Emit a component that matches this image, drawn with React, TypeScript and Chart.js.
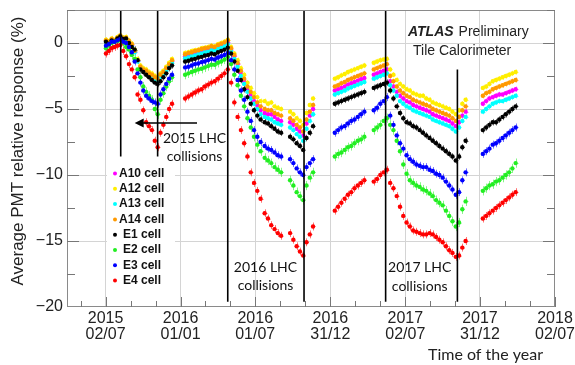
import React, { useEffect, useRef } from 'react';
import { Chart, registerables } from 'chart.js';
Chart.register(...registerables);

// Days counted from 2015-01-01
const days = [
  183, 190, 197, 204, 211, 218, 225, 232, 239, 246, 253, 260, 267, 274, 281, 288, 295, 302, 309, 316, 323, 330, 337, 344,
  376, 384, 392, 400, 408, 416, 424, 432, 440, 448, 456, 464, 472, 480,
  488, 496, 504, 512, 520, 528, 536, 544, 552, 560,
  570, 578, 586, 594, 602, 610,
  632, 640, 648, 656, 664, 672, 680, 688,
  741, 749, 757, 765, 773, 781, 789, 797, 805, 813,
  836, 844, 852, 860, 868,
  876, 884, 892, 900, 908, 916, 924, 932, 940, 948, 956, 964, 972, 980, 988, 996, 1004, 1012, 1020, 1028, 1036, 1044, 1052, 1060,
  1102, 1110, 1118, 1126, 1134, 1142, 1150, 1158, 1166, 1174, 1182,
];

const a10 = [
  0.15, 0.05, 0.25, 0.15, 0.35, 0.5, 0.3, 0.35, 0.1, -0.15, -0.65, -1.35, -1.85, -2.05, -2.15, -2.35, -2.5, -2.7, -2.8, -2.5, -2.3, -2.0, -1.7, -1.4,
  -1.0, -0.95, -0.85, -0.8, -0.7, -0.65, -0.55, -0.5, -0.4, -0.45, -0.3, -0.2, -0.1, 0.05,
  -0.5, -1.0, -1.6, -2.3, -2.9, -3.5, -3.9, -4.4, -4.7, -5.1,
  -5.3, -5.4, -5.4, -5.6, -5.8, -5.9,
  -6.0, -6.2, -6.5, -6.7, -7.0, -6.1, -5.5, -5.0,
  -3.6, -3.5, -3.4, -3.3, -3.15, -3.05, -2.95, -2.85, -2.75, -2.65,
  -2.4, -2.3, -2.2, -2.1, -2.0,
  -2.9, -3.3, -3.7, -4.0, -4.2, -4.4, -4.5, -4.7, -4.8, -4.9, -5.0, -5.1, -5.2, -5.4, -5.5, -5.6, -5.7, -5.8, -5.9, -6.1, -6.3, -6.0, -5.5, -5.2,
  -4.6, -4.4, -4.2, -4.1, -4.0, -3.9, -3.9, -3.8, -3.7, -3.6, -3.5,
];

const a12 = [
  0.25, 0.15, 0.35, 0.25, 0.45, 0.6, 0.4, 0.45, 0.2, -0.05, -0.5, -1.2, -1.7, -1.9, -2.0, -2.2, -2.3, -2.5, -2.6, -2.3, -2.1, -1.8, -1.5, -1.2,
  -0.75, -0.7, -0.6, -0.55, -0.5, -0.4, -0.35, -0.3, -0.2, -0.25, -0.1, 0.0, 0.1, 0.25,
  -0.3, -0.8, -1.3, -1.9, -2.4, -3.0, -3.4, -3.8, -4.1, -4.4,
  -4.4, -4.6, -4.5, -4.8, -4.9, -5.0,
  -5.2, -5.4, -5.7, -5.9, -6.2, -5.3, -4.7, -4.2,
  -2.7, -2.6, -2.45, -2.35, -2.2, -2.1, -2.0, -1.9, -1.8, -1.7,
  -1.5, -1.4, -1.3, -1.25, -1.2,
  -2.0, -2.4, -2.8, -3.1, -3.3, -3.5, -3.6, -3.8, -3.9, -4.0, -4.0, -4.2, -4.3, -4.5, -4.6, -4.7, -4.8, -4.9, -5.0, -5.2, -5.4, -5.1, -4.6, -4.3,
  -3.4, -3.3, -3.1, -2.9, -2.8, -2.7, -2.6, -2.5, -2.4, -2.3, -2.2,
];

const a13 = [
  0.1, 0.0, 0.2, 0.1, 0.3, 0.45, 0.25, 0.3, 0.05, -0.2, -0.7, -1.4, -1.9, -2.1, -2.2, -2.4, -2.6, -2.8, -2.9, -2.6, -2.4, -2.1, -1.8, -1.5,
  -1.15, -1.1, -1.0, -0.95, -0.85, -0.8, -0.7, -0.65, -0.55, -0.6, -0.45, -0.35, -0.25, -0.1,
  -0.6, -1.2, -1.8, -2.5, -3.1, -3.7, -4.2, -4.6, -5.0, -5.4,
  -5.6, -5.7, -5.8, -6.0, -6.1, -6.2,
  -6.4, -6.6, -6.9, -7.1, -7.4, -6.5, -5.9, -5.4,
  -3.9, -3.8, -3.7, -3.6, -3.45, -3.35, -3.25, -3.15, -3.05, -2.95,
  -2.7, -2.6, -2.5, -2.4, -2.3,
  -3.2, -3.6, -4.0, -4.4, -4.6, -4.8, -4.9, -5.1, -5.2, -5.3, -5.4, -5.5, -5.6, -5.8, -5.9, -6.0, -6.1, -6.2, -6.3, -6.5, -6.7, -6.4, -5.9, -5.6,
  -5.2, -5.0, -4.8, -4.6, -4.5, -4.4, -4.4, -4.3, -4.2, -4.1, -4.0,
];

const a14 = [
  0.2, 0.1, 0.3, 0.2, 0.4, 0.55, 0.35, 0.4, 0.15, -0.1, -0.6, -1.3, -1.8, -2.0, -2.1, -2.3, -2.4, -2.6, -2.7, -2.4, -2.2, -1.9, -1.6, -1.3,
  -0.85, -0.75, -0.7, -0.6, -0.55, -0.45, -0.4, -0.35, -0.25, -0.3, -0.15, -0.05, 0.05, 0.2,
  -0.4, -0.9, -1.5, -2.1, -2.7, -3.3, -3.7, -4.1, -4.5, -4.8,
  -5.0, -5.1, -5.1, -5.3, -5.4, -5.5,
  -5.7, -5.9, -6.2, -6.4, -6.7, -5.8, -5.2, -4.7,
  -3.3, -3.2, -3.05, -2.95, -2.8, -2.7, -2.6, -2.5, -2.4, -2.3,
  -2.0, -1.9, -1.8, -1.7, -1.6,
  -2.5, -2.9, -3.3, -3.6, -3.8, -4.0, -4.1, -4.3, -4.4, -4.5, -4.6, -4.7, -4.8, -5.0, -5.1, -5.2, -5.3, -5.4, -5.5, -5.7, -5.9, -5.6, -5.1, -4.8,
  -4.0, -3.8, -3.7, -3.5, -3.4, -3.3, -3.2, -3.1, -3.0, -2.9, -2.8,
];

const e1 = [
  0.1, -0.05, 0.2, 0.1, 0.35, 0.5, 0.3, 0.35, 0.0, -0.3, -0.5, -1.3, -2.0, -2.2, -2.4, -2.6, -2.8, -3.0, -3.1, -2.9, -2.6, -2.3, -1.9, -1.7,
  -1.4, -1.35, -1.25, -1.2, -1.1, -1.05, -0.95, -0.9, -0.8, -0.85, -0.7, -0.6, -0.5, -0.35,
  -0.8, -1.4, -2.1, -2.8, -3.5, -4.1, -4.6, -5.1, -5.5, -5.8,
  -6.0, -6.1, -6.3, -6.5, -6.7, -6.8,
  -7.1, -7.3, -7.6, -7.8, -8.1, -7.2, -6.8, -6.3,
  -4.6, -4.5, -4.4, -4.3, -4.2, -4.1, -4.0, -3.9, -3.8, -3.7,
  -3.4, -3.3, -3.2, -3.1, -3.0,
  -3.6, -4.2, -4.8, -5.3, -5.7, -6.0, -6.1, -6.3, -6.4, -6.6, -6.8, -7.0, -7.2, -7.4, -7.6, -7.8, -8.0, -8.2, -8.4, -8.6, -8.9, -8.6, -7.9, -7.4,
  -6.6, -6.4, -6.2, -6.0, -6.0, -5.8, -5.6, -5.4, -5.2, -5.0, -4.8,
];

const e2 = [
  -0.4, -0.2, 0.0, 0.1, 0.15, 0.2, 0.0, -0.3, -0.5, -0.9, -1.2, -2.0, -2.6, -3.3, -3.7, -4.0, -4.3, -5.0, -5.4, -4.3, -3.8, -3.3, -2.9, -2.6,
  -2.4, -2.3, -2.2, -2.1, -2.0, -1.95, -1.85, -1.75, -1.65, -1.65, -1.5, -1.4, -1.25, -1.05,
  -1.6, -2.4, -3.2, -4.0, -4.8, -5.7, -6.4, -7.1, -7.7, -8.2,
  -8.7, -8.9, -9.1, -9.4, -9.6, -9.8,
  -10.4, -10.8, -11.3, -11.6, -11.9, -10.8, -10.2, -9.8,
  -8.6, -8.4, -8.3, -8.1, -7.9, -7.8, -7.6, -7.4, -7.3, -7.1,
  -6.6, -6.4, -6.2, -5.9, -5.7,
  -6.2, -6.6, -7.4, -8.2, -9.2, -9.9, -10.4, -10.6, -10.8, -10.9, -11.1, -11.2, -11.4, -11.6, -11.9, -12.1, -12.3, -12.7, -13.1, -13.5, -13.9, -13.6, -12.6, -12.0,
  -11.2, -11.0, -10.8, -10.7, -10.5, -10.4, -10.2, -10.0, -9.8, -9.5, -9.1,
];

const e3 = [
  -0.2, -0.1, 0.1, 0.1, 0.2, 0.3, 0.1, 0.0, -0.3, -0.7, -1.4, -2.3, -3.0, -3.6, -4.0, -4.2, -4.4, -4.5, -4.6, -3.9, -3.5, -3.1, -2.7, -2.4,
  -1.85, -1.8, -1.7, -1.6, -1.55, -1.45, -1.4, -1.3, -1.2, -1.25, -1.1, -1.0, -0.9, -0.75,
  -1.3, -2.0, -2.8, -3.6, -4.3, -5.2, -5.9, -6.6, -7.1, -7.5,
  -7.8, -8.0, -8.1, -8.3, -8.5, -8.6,
  -8.8, -9.1, -9.5, -9.8, -10.0, -9.4, -9.1, -8.8,
  -6.8, -6.6, -6.4, -6.3, -6.1, -5.9, -5.8, -5.6, -5.4, -5.2,
  -5.1, -4.9, -4.6, -4.4, -4.1,
  -5.5, -6.2, -7.0, -7.6, -8.0, -8.5, -8.8, -9.0, -9.2, -9.3, -9.4, -9.4, -9.6, -9.7, -9.9, -10.0, -10.2, -10.5, -10.8, -11.1, -11.5, -11.3, -10.4, -9.8,
  -8.4, -8.2, -8.0, -7.7, -7.6, -7.4, -7.2, -7.0, -6.8, -6.6, -6.4,
];

const e4 = [
  -0.8, -0.6, -0.4, -0.3, -0.2, -0.15, -0.6, -1.0, -1.6, -2.0, -2.6, -3.9, -4.3, -5.1, -6.0, -6.3, -6.6, -7.4, -7.9, -6.8, -6.2, -5.6, -5.0, -4.6,
  -4.2, -4.05, -3.9, -3.75, -3.6, -3.5, -3.3, -3.15, -3.0, -2.9, -2.7, -2.5, -2.3, -2.0,
  -3.0, -4.5, -5.6, -6.6, -7.6, -8.6, -9.8, -10.6, -11.2, -11.8,
  -12.9, -13.3, -13.8, -14.1, -14.4, -14.6,
  -14.4, -14.9, -15.4, -15.8, -16.1, -15.1, -14.5, -13.9,
  -12.7, -12.4, -12.1, -11.8, -11.5, -11.3, -11.0, -10.8, -10.6, -10.4,
  -10.5, -10.3, -10.0, -9.8, -9.6,
  -10.6, -11.0, -11.6, -12.4, -13.1, -13.6, -13.9, -14.2, -14.3, -14.4, -14.5, -14.5, -14.4, -14.5, -14.7, -14.9, -15.1, -15.4, -15.7, -15.9, -16.2, -16.1, -15.5, -15.0,
  -13.3, -13.1, -12.9, -12.7, -12.5, -12.3, -12.1, -11.9, -11.7, -11.5, -11.3,
];

const seriesNames = ['A10 cell', 'A12 cell', 'A13 cell', 'A14 cell', 'E1 cell', 'E2 cell', 'E3 cell', 'E4 cell'];
const seriesValues = [a10, a12, a13, a14, e1, e2, e3, e4];
const seriesErrors = [0.2, 0.2, 0.2, 0.2, 0.25, 0.35, 0.3, 0.3];
const seriesColors = ['#ff00ff', '#ffee00', '#00ffff', '#ff9900', '#000000', '#22ee22', '#0000ff', '#ff0000'];

const xTickDays = [182, 365, 547, 730, 913, 1095, 1278];
const xTickLabels = [
  ['2015', '02/07'], ['2016', '01/01'], ['2016', '01/07'], ['2016', '31/12'],
  ['2017', '02/07'], ['2017', '31/12'], ['2018', '02/07'],
];
const yTicks = [-20, -15, -10, -5, 0];

// Collision period markers (day, top value, bottom value)
const markerDays = [219, 309, 480, 666, 865, 1040];
const markerTops = [2.5, 2.5, 2.5, 2.5, 2.5, -2.0];
const markerBottoms = [-8.6, -8.6, -19.6, -19.6, -19.6, -19.6];

const notes = [
  { day: 399, vals: [-7.2, -8.6], lines: ['2015 LHC', 'collisions'] },
  { day: 572, vals: [-17.0, -18.4], lines: ['2016 LHC', 'collisions'] },
  { day: 948, vals: [-17.0, -18.45], lines: ['2017 LHC', 'collisions'] },
];
const arrowFrom = { day: 405, val: -6.06 };
const arrowTo = { day: 253, val: -6.06 };

const SANS = '"Liberation Sans", Arial, Helvetica, sans-serif';
const NOTE_FONT = 'Lato, "Open Sans", sans-serif';

const errorBarPlugin = {
  id: 'errbars',
  beforeDatasetsDraw(chart: any) {
    const { ctx, scales } = chart;
    const y = scales.y;
    ctx.save();
    ctx.lineWidth = 1;
    chart.data.datasets.forEach((ds: any, di: number) => {
      if (ds.errSize === undefined) return;
      const meta = chart.getDatasetMeta(di);
      ctx.strokeStyle = ds.backgroundColor;
      ctx.globalAlpha = 0.55;
      meta.data.forEach((el: any, j: number) => {
        const v = ds.data[j].y;
        const px = Math.round(el.x) + 0.5;
        const top = y.getPixelForValue(v + ds.errSize);
        const bot = y.getPixelForValue(v - ds.errSize);
        ctx.beginPath();
        ctx.moveTo(px, top);
        ctx.lineTo(px, bot);
        ctx.moveTo(px - 2, Math.round(el.y) + 0.5);
        ctx.lineTo(px + 2, Math.round(el.y) + 0.5);
        ctx.stroke();
      });
    });
    ctx.restore();
  },
};

const decorPlugin = {
  id: 'decor',
  afterDatasetsDraw(chart: any) {
    const { ctx, chartArea: ca, scales } = chart;
    const x = scales.x;
    const y = scales.y;
    ctx.save();

    // frame
    ctx.strokeStyle = '#8a8a8a';
    ctx.lineWidth = 1;
    ctx.strokeRect(ca.left + 0.5, ca.top + 0.5, ca.right - ca.left - 1, ca.bottom - ca.top - 1);

    // minor x ticks (inward, bottom)
    ctx.strokeStyle = '#777';
    const majors = [xTickDays[0] - (xTickDays[1] - xTickDays[0]), ...xTickDays];
    for (let i = 0; i < majors.length - 1; i++) {
      const a = majors[i], b = majors[i + 1];
      for (const f of [1 / 3, 2 / 3]) {
        const d = a + (b - a) * f;
        const px = Math.round(x.getPixelForValue(d)) + 0.5;
        if (px < ca.left || px > ca.right) continue;
        ctx.beginPath();
        ctx.moveTo(px, ca.bottom);
        ctx.lineTo(px, ca.bottom - 6);
        ctx.stroke();
      }
    }
    for (const d of xTickDays) {
      const px = Math.round(x.getPixelForValue(d)) + 0.5;
      ctx.beginPath();
      ctx.moveTo(px, ca.bottom);
      ctx.lineTo(px, ca.bottom - 10);
      ctx.stroke();
    }
    // y ticks left & right
    for (let v = -17.5; v <= 2.5; v += 2.5) {
      const py = Math.round(y.getPixelForValue(v)) + 0.5;
      const len = v % 5 === 0 ? 12 : 8;
      ctx.beginPath();
      ctx.moveTo(ca.left, py);
      ctx.lineTo(ca.left + len, py);
      ctx.moveTo(ca.right, py);
      ctx.lineTo(ca.right - len, py);
      ctx.stroke();
    }

    // arrow
    const ax1 = x.getPixelForValue(arrowFrom.day);
    const ax2 = x.getPixelForValue(arrowTo.day);
    const ay = y.getPixelForValue(arrowFrom.val);
    ctx.strokeStyle = '#000';
    ctx.fillStyle = '#000';
    ctx.lineWidth = 1.5;
    ctx.beginPath();
    ctx.moveTo(ax1, ay);
    ctx.lineTo(ax2 + 6, ay);
    ctx.stroke();
    ctx.beginPath();
    ctx.moveTo(ax2, ay);
    ctx.lineTo(ax2 + 9, ay - 4.5);
    ctx.lineTo(ax2 + 9, ay + 4.5);
    ctx.closePath();
    ctx.fill();

    // notes
    ctx.font = `14px ${NOTE_FONT}`;
    ctx.fillStyle = '#111';
    ctx.textAlign = 'center';
    ctx.textBaseline = 'middle';
    for (const n of notes) {
      const px = x.getPixelForValue(n.day);
      n.lines.forEach((t, i) => {
        const py = y.getPixelForValue(n.vals[i]);
        ctx.fillText(t, px, py);
      });
    }

    // legend
    const lx = ca.left + 40;
    const ly = ca.top + 155;
    ctx.fillStyle = '#ffffff';
    ctx.fillRect(lx, ly, 68, 124);
    ctx.font = `bold 12px ${SANS}`;
    ctx.textAlign = 'left';
    ctx.textBaseline = 'middle';
    seriesNames.forEach((name, i) => {
      const ry = ca.top + 163.5 + i * 15.3;
      ctx.fillStyle = seriesColors[i];
      ctx.beginPath();
      ctx.arc(lx + 8, ry, 2, 0, Math.PI * 2);
      ctx.fill();
      ctx.fillStyle = '#111';
      ctx.fillText(name, lx + (name.startsWith('A') ? 12 : 16), ry);
    });

    // ATLAS label
    ctx.textBaseline = 'middle';
    ctx.textAlign = 'left';
    ctx.fillStyle = '#222';
    ctx.font = `italic bold 14px ${SANS}`;
    const atlasX = ca.left + 341;
    ctx.fillText('ATLAS', atlasX, ca.top + 22);
    const aw = ctx.measureText('ATLAS').width;
    ctx.font = `14px ${SANS}`;
    ctx.fillText('Preliminary', atlasX + aw + 5, ca.top + 22);
    ctx.fillText('Tile Calorimeter', ca.left + 346, ca.top + 41);

    ctx.restore();
  },
  afterDraw(chart: any) {
    const { ctx } = chart;
    ctx.save();
    ctx.fillStyle = '#222';
    ctx.font = `17px ${SANS}`;
    ctx.textAlign = 'center';
    ctx.textBaseline = 'middle';
    ctx.translate(18, 151);
    ctx.rotate(-Math.PI / 2);
    ctx.fillText('Average PMT relative response (%)', 0, 0);
    ctx.restore();
    ctx.save();
    ctx.fillStyle = '#222';
    ctx.font = `16px ${NOTE_FONT}`;
    ctx.textAlign = 'right';
    ctx.textBaseline = 'middle';
    ctx.fillText('Time of the year', 543, 355);
    ctx.restore();
  },
};

export default function App() {
  const ref = useRef<HTMLCanvasElement>(null);
  useEffect(() => {
    document.body.style.margin = '0';
    const canvas = ref.current;
    if (!canvas) return;
    const pointSets = seriesValues.map((vals, i) => ({
      label: seriesNames[i],
      data: days.map((d, j) => ({ x: d, y: vals[j] })),
      backgroundColor: seriesColors[i],
      borderColor: seriesColors[i],
      pointRadius: 2.2,
      pointBorderWidth: 0,
      showLine: false,
      errSize: seriesErrors[i],
      order: 10 - i,
    }));
    const lineSets = markerDays.map((d, i) => ({
      label: 'marker' + i,
      data: [{ x: d, y: markerTops[i] }, { x: d, y: markerBottoms[i] }],
      borderColor: '#000',
      backgroundColor: '#000',
      borderWidth: 1.6,
      pointRadius: 0,
      showLine: true,
      order: 0,
    }));
    const chart = new Chart(canvas, {
      type: 'scatter',
      data: { datasets: [...lineSets, ...pointSets] as any },
      options: {
        animation: false,
        responsive: false,
        devicePixelRatio: 1,
        layout: { padding: { left: 0, right: 20, top: 10, bottom: 0 } },
        plugins: { legend: { display: false }, tooltip: { enabled: false } },
        scales: {
          x: {
            type: 'linear',
            min: 88,
            max: 1278,
            afterBuildTicks: (s: any) => {
              s.ticks = xTickDays.map((v) => ({ value: v }));
            },
            afterFit: (s: any) => {
              s.height = 58;
              s.paddingLeft = 0;
              s.paddingRight = 0;
            },
            ticks: {
              autoSkip: false,
              maxRotation: 0,
              minRotation: 0,
              padding: 4,
              color: '#222',
              font: { family: SANS, size: 16, lineHeight: 1.0 },
              callback: (_v: any, i: number) => xTickLabels[i],
            },
            grid: {
              drawTicks: false,
              lineWidth: 1,
              color: (c: any) => (c.tick && (c.tick.value === 1278) ? 'rgba(0,0,0,0)' : '#d4d4d4'),
            },
            border: { display: false },
          },
          y: {
            type: 'linear',
            min: -20,
            max: 2.5,
            afterBuildTicks: (s: any) => {
              s.ticks = yTicks.map((v) => ({ value: v }));
            },
            afterFit: (s: any) => {
              s.width = 67;
              s.paddingTop = 0;
              s.paddingBottom = 0;
            },
            ticks: {
              padding: 4,
              color: '#222',
              font: { family: SANS, size: 16 },
              callback: (v: any) => (v < 0 ? '\u2212' + Math.abs(v) : String(v)),
            },
            grid: {
              drawTicks: false,
              lineWidth: 1,
              color: (c: any) => (c.tick && c.tick.value === -20 ? 'rgba(0,0,0,0)' : '#d4d4d4'),
            },
            border: { display: false },
          },
        },
      },
      plugins: [errorBarPlugin, decorPlugin],
    });
    return () => chart.destroy();
  }, []);
  return (
    <div style={{ width: 575, height: 365 }}>
      <canvas ref={ref} width={575} height={365} style={{ display: 'block' }} />
    </div>
  );
}
